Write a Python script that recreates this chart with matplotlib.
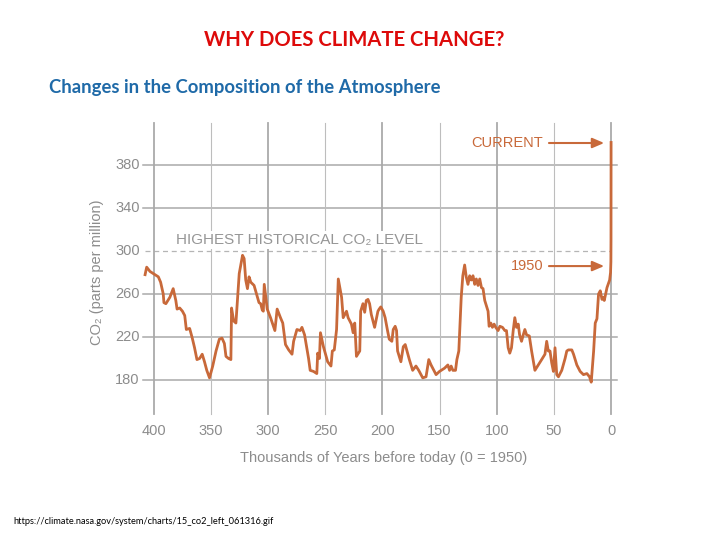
import matplotlib
matplotlib.use('Agg')
import matplotlib.pyplot as plt

# CO2 record, thousands of years before 1950 vs ppm
kyr = [407.8, 406.4, 403.5, 400.6, 397.7, 396.2, 394.2, 391.9, 391.3, 389.6,
       386.1, 383.2, 380.9, 379.8, 377.5, 375.1, 373.1, 371.7, 368.8, 366.5,
       364.5, 362.4, 360.1, 357.8, 355.8, 353.8, 351.4, 348.6, 345.7, 342.8,
       340.5, 338.4, 337.0, 334.7, 332.7, 332.1, 330.3, 328.3, 326.6, 325.4,
       322.5, 321.1, 319.7, 318.2, 316.8, 315.3, 312.4, 309.5, 308.1, 306.6,
       305.2, 304.3, 303.5, 302.3, 300.9, 298.0, 294.2, 292.2, 289.3, 287.3,
       284.9, 282.1, 279.2, 277.8, 274.9, 272.0, 270.5, 268.2, 264.7, 263.3,
       260.4, 257.5, 256.7, 255.2, 254.3, 251.7, 248.0, 245.1, 243.9, 242.2,
       240.2, 238.7, 235.8, 234.4, 232.9, 231.5, 230.1, 227.2, 225.7, 224.3,
       222.8, 219.9, 219.1, 217.1, 215.6, 214.2, 212.7, 211.3, 209.8, 206.9,
       204.0,
       202.9, 201.5, 199.4, 197.7, 195.6, 194.1, 191.8, 190.6, 188.9, 187.7,
       186.8, 183.9, 181.8, 180.1, 176.5, 173.6, 170.7, 168.3, 164.8, 161.9,
       159.5, 157.5, 153.1, 150.1, 145.7, 142.8, 141.3, 139.9, 138.4, 136.1,
       134.9, 133.2, 131.1, 129.7, 128.1, 126.7, 125.2, 123.7, 122.3, 120.8,
       119.3, 117.9, 116.4, 114.9, 113.4, 112.0, 110.5, 109.1, 107.6, 106.7,
       105.2, 103.8, 102.3, 100.9, 98.8, 97.3, 95.0, 92.9, 91.5, 90.0,
       88.6, 87.1, 85.6, 84.2, 82.7, 81.2, 80.0, 78.3, 76.8, 75.4,
       73.9, 71.5, 69.5, 66.6, 63.6, 60.7, 57.8, 56.3, 54.9, 53.4,
       51.9, 50.4, 49.0, 47.5, 46.0, 43.1, 40.2, 38.7, 37.3, 34.3,
       32.8, 29.9, 27.0, 24.1, 21.1, 18.8, 17.3, 15.2, 13.8, 12.3,
       10.9, 9.4, 7.9, 6.5, 5.9, 3.5, 1.2, 0.4, 0.1, 0.0,
       -0.07]
ppm = [278, 285, 281, 279, 277, 276, 271, 260, 252, 251,
       257, 265, 254, 246, 247, 244, 240, 227, 228, 219,
       210, 199, 200, 204, 197, 189, 182, 193, 207, 218,
       219, 214, 202, 200, 199, 247, 235, 233, 260, 279,
       296, 293, 273, 265, 276, 271, 268, 257, 252, 251,
       245, 244, 269, 258, 246, 238, 226, 246, 238, 233,
       213, 208, 204, 216, 227, 226, 229, 222, 200, 189,
       188, 186, 205, 200, 224, 211, 197, 193, 207, 208,
       227, 274, 257, 238, 241, 244, 238, 232, 224, 233,
       202, 207, 244, 251, 243, 254, 255, 251, 241, 229,
       244,
       246, 248, 244, 238, 226, 218, 216, 227, 230, 226,
       207, 197, 211, 213, 199, 189, 193, 189, 182, 183,
       199, 194, 185, 188, 191, 194, 189, 193, 189, 189,
       199, 207, 257, 277, 287, 276, 269, 277, 273, 277,
       269, 274, 268, 274, 266, 265, 254, 249, 244, 230,
       233, 229, 232, 229, 226, 230, 229, 226, 226, 210,
       205, 210, 226, 238, 229, 232, 222, 216, 222, 227,
       222, 221, 207, 189, 194, 199, 204, 216, 207, 207,
       196, 188, 210, 185, 183, 189, 200, 207, 208, 208,
       204, 194, 188, 185, 186, 183, 178, 207, 233, 237,
       260, 263, 255, 257, 254, 266, 273, 280, 290, 311,
       401]

x_ticks = [400, 350, 300, 250, 200, 150, 100, 50, 0]
y_ticks = [180, 220, 260, 300, 340, 380]
highest_level = 300
current_ppm = 400.5
ppm_1950 = 286

orange = '#c8693a'
grid_grey = '#a9a9a9'
text_grey = '#8c8c8c'
chart_font = ['Liberation Sans', 'DejaVu Sans']
slide_font = ['Lato', 'DejaVu Sans']

W, H = 720, 540
fig = plt.figure(figsize=(7.2, 5.4), dpi=100)

def fx(px):
    return px / W

def fy(py):
    return 1 - py / H

ax = fig.add_axes([fx(130), fy(420), 495 / W, 300 / H])
ax.set_xlim(421.0, -12.25)
ax.set_ylim(142.8, 421.9)
ax.axis('off')

# horizontal grid (300 is drawn dashed as the "highest" line)
for v in y_ticks:
    if v == highest_level:
        continue
    ax.plot([409.6, -5.25], [v, v], color=grid_grey, lw=1.1, zorder=1)
    ax.text(412.5, v, str(v), ha='right', va='center', fontsize=10.5,
            color=text_grey, family=chart_font)
ax.text(412.5, highest_level, str(highest_level), ha='right', va='center',
        fontsize=10.5, color=text_grey, family=chart_font)
ax.plot([408, 0.5], [highest_level, highest_level], color='#b5b5b5', lw=0.9,
        ls=(0, (4, 3)), zorder=1)

# vertical grid, thicker every 100k years
for v in x_ticks:
    major = v % 100 == 0
    ax.plot([v, v], [148.4, 419.1], color='#aaaaaa' if major else '#bdbdbd',
            lw=1.3 if major else 0.8, zorder=1)
    ax.text(v, 132.6, str(v), ha='center', va='center', fontsize=10.5,
            color=text_grey, family=chart_font)

ax.text(380.7, 310.2, 'HIGHEST HISTORICAL CO\u2082 LEVEL', ha='left', va='center',
        fontsize=11, color='#969696', family=chart_font, zorder=2,
        bbox=dict(facecolor='white', edgecolor='none', pad=1.5))

ax.plot(kyr, ppm, color=orange, lw=2.0, solid_joinstyle='round', zorder=3)

# CURRENT / 1950 arrows
for label, yv in [('CURRENT', current_ppm), ('1950', ppm_1950)]:
    ax.text(59.5, yv, label, ha='right', va='center', fontsize=10.5,
            color=orange, family=chart_font)
    ax.annotate('', xy=(6.0, yv), xytext=(54.3, yv),
                arrowprops=dict(arrowstyle='-|>,head_length=0.7,head_width=0.3',
                                color=orange, lw=1.5, shrinkA=0, shrinkB=0))

fig.text(fx(384), fy(458), 'Thousands of Years before today (0 = 1950)',
         ha='center', va='center', fontsize=10.5, color=text_grey, family=chart_font)
fig.text(fx(97), fy(272), 'CO\u2082 (parts per million)', rotation=90,
         ha='center', va='center', fontsize=10.5, color=text_grey, family=chart_font)

# slide text
fig.text(fx(354), fy(40), 'WHY DOES CLIMATE CHANGE?', ha='center', va='center',
         fontsize=14.6, fontweight='bold', color='#dd0a0a', family=slide_font)
fig.text(fx(49), fy(87), 'Changes in the Composition of the Atmosphere', ha='left',
         va='center', fontsize=13.3, fontweight='bold', color='#1f6aa8', family=slide_font)
fig.text(fx(13), fy(521), 'https://climate.nasa.gov/system/charts/15_co2_left_061316.gif',
         ha='left', va='center', fontsize=6.7, color='black', family=slide_font)

fig.savefig('out.png', dpi=100)
